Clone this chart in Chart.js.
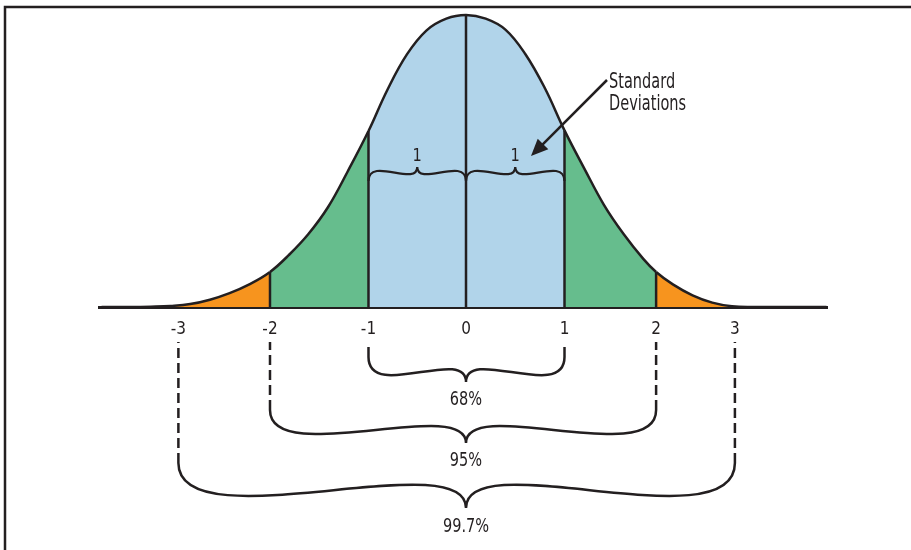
<!DOCTYPE html>
<html>
<head>
<meta charset="utf-8">
<script src="https://cdn.jsdelivr.net/npm/chart.js@4/dist/chart.umd.min.js"></script>
<style>
    html, body { margin: 0; padding: 0; background: #fff; }
    #wrap { position: relative; width: 911px; height: 550px; }
</style>
</head>
<body>
<div id="wrap"><canvas id="chart"></canvas></div>
<script>
// bell curve, x in standard deviations, y as density
const curveX = [-3.7, -3.4, -3.2, -3.0, -2.8, -2.6, -2.4, -2.2, -1.99, -1.8, -1.6, -1.4, -1.2, -0.99, -0.8, -0.6, -0.4, -0.2, 0,
    0.2, 0.4, 0.6, 0.8, 1.0, 1.2, 1.4, 1.6, 1.8, 1.93, 2.1, 2.3, 2.5, 2.7, 2.9, 3.2, 3.66];
const curveY = [0, 0, 0.0005, 0.0015, 0.004, 0.010, 0.019, 0.031, 0.048, 0.071, 0.100, 0.137, 0.186, 0.241, 0.297, 0.346, 0.379, 0.395, 0.4,
    0.395, 0.380, 0.347, 0.300, 0.242, 0.190, 0.140, 0.100, 0.066, 0.048, 0.031, 0.016, 0.006, 0.001, 0, 0, 0];

// where the diagram puts its sigma marks
const tickPos = [-2.92, -1.99, -0.99, 0, 1.0, 1.93, 2.73];
const tickLabels = ['-3', '-2', '-1', '0', '1', '2', '3'];

// shaded bands: edges, and the vertical rules inside the curve
const bandEdges = [-1.99, -0.99, 1.0, 1.93];
const dividers = [-1.99, -0.99, 0, 1.0, 1.93];

const coverLabels = ['68%', '95%', '99.7%'];
const sdLabel = ['Standard', 'Deviations'];

const INK = '#231f20';
const BLUE = '#b1d4ea';
const GREEN = '#66bd8d';
const ORANGE = '#f7941e';
const FONT = "'DejaVu Sans Condensed', 'DejaVu Sans', sans-serif";

function bandColor(mid) {
    if (mid < bandEdges[0] || mid > bandEdges[3]) return ORANGE;
    if (mid < bandEdges[1] || mid > bandEdges[2]) return GREEN;
    return BLUE;
}

function yAt(v) {
    return curveY[curveX.indexOf(v)];
}

function halfBrace(ctx, xe, ye, xm, yt) {
    const h = yt - ye;
    ctx.moveTo(xe, ye);
    ctx.bezierCurveTo(xe, ye + 1.78 * h, xm, yt - 1.44 * h, xm, yt);
}

function brace(ctx, x1, x2, xm, ye, yt) {
    ctx.beginPath();
    halfBrace(ctx, x1, ye, xm, yt);
    halfBrace(ctx, x2, ye, xm, yt);
    ctx.stroke();
}

// narrow text: the original uses a condensed face
function label(ctx, str, x, y, size, squeeze, align) {
    ctx.save();
    ctx.font = size + 'px ' + FONT;
    ctx.textAlign = align;
    ctx.translate(x, y);
    ctx.scale(squeeze, 1);
    ctx.fillText(str, 0, 0);
    ctx.restore();
}

const annotate = {
    id: 'annotate',
    afterDraw(chart) {
        const {ctx} = chart;
        const x = chart.scales.x;
        const px = v => x.getPixelForValue(v);
        ctx.save();
        ctx.strokeStyle = INK;
        ctx.fillStyle = INK;
        ctx.lineWidth = 2.5;

        // frame (top and left edges)
        ctx.beginPath();
        ctx.moveTo(5, 550);
        ctx.lineTo(5, 7);
        ctx.lineTo(911, 7);
        ctx.stroke();

        // the two "1" braces
        ctx.lineWidth = 2.2;
        const m1 = (px(tickPos[2]) + px(tickPos[3])) / 2;
        const m2 = (px(tickPos[3]) + px(tickPos[4])) / 2;
        brace(ctx, px(tickPos[2]), px(tickPos[3]), m1, 181, 167);
        brace(ctx, px(tickPos[3]), px(tickPos[4]), m2, 181, 167);
        ctx.textBaseline = 'middle';
        label(ctx, tickLabels[4], m1, 156, 18, 0.9, 'center');
        label(ctx, tickLabels[4], m2, 156, 18, 0.9, 'center');

        // coverage braces under the axis
        const ends = [357, 410, 463];
        const tips = [382, 443, 508];
        const labelY = [400, 461, 527];
        const center = px(0);
        for (let k = 0; k < 3; k++) {
            const xl = px(tickPos[2 - k]);
            const xr = px(tickPos[4 + k]);
            ctx.lineWidth = 2.5;
            ctx.setLineDash([10, 5]);
            for (const xx of [xl, xr]) {
                ctx.beginPath();
                ctx.moveTo(xx, ends[k]);
                ctx.lineTo(xx, 342);
                ctx.stroke();
            }
            ctx.setLineDash([]);
            brace(ctx, xl, xr, center, ends[k], tips[k]);
            label(ctx, coverLabels[k], center, labelY[k], 19, 0.85, 'center');
        }

        // arrow to the sigma braces
        const tx = 531, ty = 156, sx = 607, sy = 80;
        const len = Math.hypot(tx - sx, ty - sy);
        const ux = (tx - sx) / len, uy = (ty - sy) / len;
        ctx.lineWidth = 2.5;
        ctx.beginPath();
        ctx.moveTo(sx, sy);
        ctx.lineTo(tx - ux * 12, ty - uy * 12);
        ctx.stroke();
        ctx.beginPath();
        ctx.moveTo(tx, ty);
        ctx.lineTo(tx - ux * 17 - uy * 7.5, ty - uy * 17 + ux * 7.5);
        ctx.lineTo(tx - ux * 17 + uy * 7.5, ty - uy * 17 - ux * 7.5);
        ctx.closePath();
        ctx.fill();

        ctx.textBaseline = 'alphabetic';
        label(ctx, sdLabel[0], 609, 88, 21, 0.77, 'left');
        label(ctx, sdLabel[1], 609, 110, 21, 0.77, 'left');
        ctx.restore();
    }
};

const curveData = curveX.map((v, i) => ({x: v, y: curveY[i]}));

const dividerSets = dividers.map(v => ({
    data: [{x: v, y: 0}, {x: v, y: yAt(v)}],
    borderColor: INK,
    borderWidth: 2.5,
    pointRadius: 0,
    fill: false,
    order: 1
}));

new Chart(document.getElementById('chart').getContext('2d'), {
    type: 'line',
    data: {
        datasets: [
            ...dividerSets,
            {
                data: curveData,
                borderColor: INK,
                borderWidth: 2.5,
                backgroundColor: BLUE,
                fill: 'origin',
                pointRadius: 0,
                tension: 0.4,
                order: 2,
                segment: {
                    backgroundColor: c => bandColor((c.p0.parsed.x + c.p1.parsed.x) / 2)
                }
            }
        ]
    },
    options: {
        responsive: true,
        maintainAspectRatio: false,
        animation: false,
        events: [],
        clip: 4,
        layout: {padding: {left: 99, right: 84, top: 15, bottom: 203}},
        plugins: {legend: {display: false}, tooltip: {enabled: false}},
        scales: {
            x: {
                type: 'linear',
                min: -3.726,
                max: 3.665,
                grid: {display: false, drawTicks: false},
                border: {display: true, color: INK, width: 3},
                afterBuildTicks: axis => {
                    axis.ticks = tickPos.map(v => ({value: v}));
                },
                afterFit: axis => {
                    axis.height = 40;
                },
                ticks: {
                    autoSkip: false,
                    maxRotation: 0,
                    padding: 12,
                    color: INK,
                    font: {family: FONT, size: 17},
                    callback: (value, index) => tickLabels[index]
                }
            },
            y: {
                type: 'linear',
                display: false,
                min: 0,
                max: 0.4
            }
        }
    },
    plugins: [annotate]
});
</script>
</body>
</html>
